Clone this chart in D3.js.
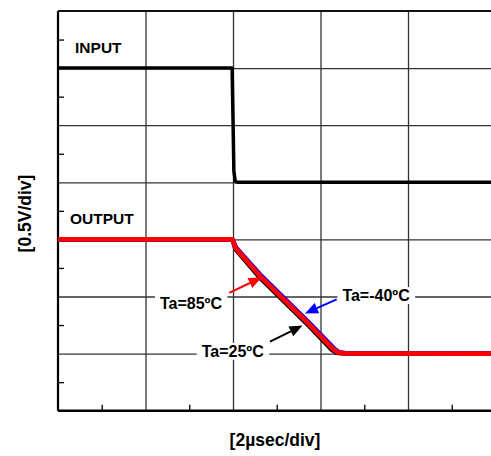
<!DOCTYPE html>
<html>
<head>
<meta charset="utf-8">
<script src="https://cdn.jsdelivr.net/npm/d3@7"></script>
<style>
  html, body { margin: 0; padding: 0; background: #fff; overflow: hidden; }
  text { font-family: "Liberation Sans", Arial, sans-serif; font-weight: bold; fill: #000; }
</style>
</head>
<body>
<script>
// time in usec, voltage in V (scope offset units)
var inputT = [0, 3.98, 4.02, 4.05, 4.10, 10];
var inputV = [3.0, 3.0, 2.1, 2.01, 2.0, 2.0];

var out85T = [0, 3.99, 4.06, 4.62, 5.69, 6.29, 6.40, 6.56, 10];
var out85V = [1.5, 1.5, 1.423, 1.178, 0.776, 0.540, 0.509, 0.502, 0.5];

var out25T = [0, 3.99, 4.05, 4.59, 5.66, 6.25, 6.37, 6.53, 10];
var out25V = [1.5, 1.5, 1.418, 1.174, 0.772, 0.536, 0.507, 0.501, 0.5];

var outM40T = [0, 3.99, 4.07, 4.645, 5.715, 6.315, 6.425, 6.59, 10];
var outM40V = [1.5, 1.5, 1.428, 1.182, 0.780, 0.543, 0.511, 0.503, 0.5];

var xLabel = '[2\u00b5sec/div]';
var yLabel = '[0.5V/div]';

var margin = {top: 11, right: -4.5, bottom: 45.3, left: 58};
var W = 491, H = 456;
var width = W - margin.left - margin.right;
var height = H - margin.top - margin.bottom;

var x = d3.scaleLinear().domain([0, 10]).range([0, width]);
var y = d3.scaleLinear().domain([0, 3.5]).range([height, 0]);

var svg = d3.select('body').append('svg')
    .attr('width', W)
    .attr('height', H);

var g = svg.append('g')
    .attr('transform', 'translate(' + margin.left + ',' + margin.top + ')');

// grid
g.append('g')
    .attr('transform', 'translate(0,' + height + ')')
    .call(d3.axisBottom(x).tickValues(d3.range(2, 10, 2)).tickSize(-height).tickFormat(''))
    .call(function (s) {
      s.select('.domain').remove();
      s.selectAll('line').attr('stroke', '#333').attr('stroke-width', 1.3);
    });
g.append('g')
    .call(d3.axisLeft(y).tickValues(d3.range(0.5, 3.5, 0.5)).tickSize(-width).tickFormat(''))
    .call(function (s) {
      s.select('.domain').remove();
      s.selectAll('line').attr('stroke', '#333').attr('stroke-width', 1.3);
    });

// minor ticks
g.append('g')
    .attr('transform', 'translate(0,' + height + ')')
    .call(d3.axisBottom(x).tickValues(d3.range(1, 10, 2)).tickSize(-6).tickFormat(''))
    .call(function (s) {
      s.select('.domain').remove();
      s.selectAll('line').attr('stroke', '#000').attr('stroke-width', 1.3);
    });
g.append('g')
    .call(d3.axisLeft(y).tickValues(d3.range(0.25, 3.5, 0.5)).tickSize(-6).tickFormat(''))
    .call(function (s) {
      s.select('.domain').remove();
      s.selectAll('line').attr('stroke', '#000').attr('stroke-width', 1.3);
    });

// frame
g.append('line').attr('x1', 0).attr('x2', width).attr('y1', 0).attr('y2', 0)
    .attr('stroke', '#111').attr('stroke-width', 2);
g.append('line').attr('x1', 0).attr('x2', width).attr('y1', height).attr('y2', height)
    .attr('stroke', '#000').attr('stroke-width', 2.5);
g.append('line').attr('x1', 0).attr('x2', 0).attr('y1', 0).attr('y2', height)
    .attr('stroke', '#000').attr('stroke-width', 2.2);

var line = d3.line()
    .x(function (d) { return x(d[0]); })
    .y(function (d) { return y(d[1]); })
    .curve(d3.curveLinear);

function zip(a, b) { return a.map(function (v, i) { return [v, b[i]]; }); }

g.append('path').datum(zip(inputT, inputV))
    .attr('d', line).attr('fill', 'none').attr('stroke', '#000')
    .attr('stroke-width', 3.5).attr('stroke-linejoin', 'round');

g.append('path').datum(zip(out25T, out25V))
    .attr('d', line).attr('fill', 'none').attr('stroke', '#000')
    .attr('stroke-width', 4.5).attr('stroke-linejoin', 'round');
g.append('path').datum(zip(outM40T, outM40V))
    .attr('d', line).attr('fill', 'none').attr('stroke', '#0000ff')
    .attr('stroke-width', 4.5).attr('stroke-linejoin', 'round');
g.append('path').datum(zip(out85T, out85V))
    .attr('d', line).attr('fill', 'none').attr('stroke', '#ff0000')
    .attr('stroke-width', 4.8).attr('stroke-linejoin', 'round');

// labels inside plot
g.append('text').attr('x', x(0.39)).attr('y', y(3.128))
    .style('font-size', '15.5px').text('INPUT');
g.append('text').attr('x', x(0.274)).attr('y', y(1.633))
    .style('font-size', '15.5px').text('OUTPUT');

// annotations: label position, arrow start, arrow tip, color
var notes = [
  {text: 'Ta=85\u00baC', tx: 2.33, ty: 0.887, from: [3.915, 1.032], to: [4.654, 1.167], color: '#ff0000'},
  {text: 'Ta=25\u00baC', tx: 3.285, ty: 0.472, from: [4.846, 0.605], to: [5.589, 0.745], color: '#000000'},
  {text: 'Ta=-40\u00baC', tx: 6.50, ty: 0.96, from: [6.370, 0.975], to: [5.646, 0.852], color: '#0000ff'}
];

notes.forEach(function (n) {
  var bg = g.append('rect').attr('fill', '#fff');
  var t = g.append('text').attr('x', x(n.tx)).attr('y', y(n.ty))
      .style('font-size', '16px').text(n.text);
  var b = t.node().getBBox();
  bg.attr('x', b.x - 5).attr('y', b.y).attr('width', b.width + 10).attr('height', b.height);

  var x1 = x(n.from[0]), y1 = y(n.from[1]);
  var x2 = x(n.to[0]), y2 = y(n.to[1]);
  var ang = Math.atan2(y2 - y1, x2 - x1);
  var len = 13, half = 5.5;
  var bx = x2 - len * Math.cos(ang), by = y2 - len * Math.sin(ang);
  g.append('line').attr('x1', x1).attr('y1', y1).attr('x2', bx).attr('y2', by)
      .attr('stroke', n.color).attr('stroke-width', 2);
  g.append('path')
      .attr('d', 'M' + x2 + ',' + y2 +
        'L' + (bx + half * Math.sin(ang)) + ',' + (by - half * Math.cos(ang)) +
        'L' + (bx - half * Math.sin(ang)) + ',' + (by + half * Math.cos(ang)) + 'Z')
      .attr('fill', n.color);
});

// axis titles
svg.append('text')
    .attr('x', 275).attr('y', 446)
    .attr('text-anchor', 'middle')
    .style('font-size', '17.5px')
    .text(xLabel);
svg.append('text')
    .attr('transform', 'translate(31,213.5) rotate(-90)')
    .attr('text-anchor', 'middle')
    .style('font-size', '17.5px')
    .text(yLabel);
</script>
</body>
</html>
